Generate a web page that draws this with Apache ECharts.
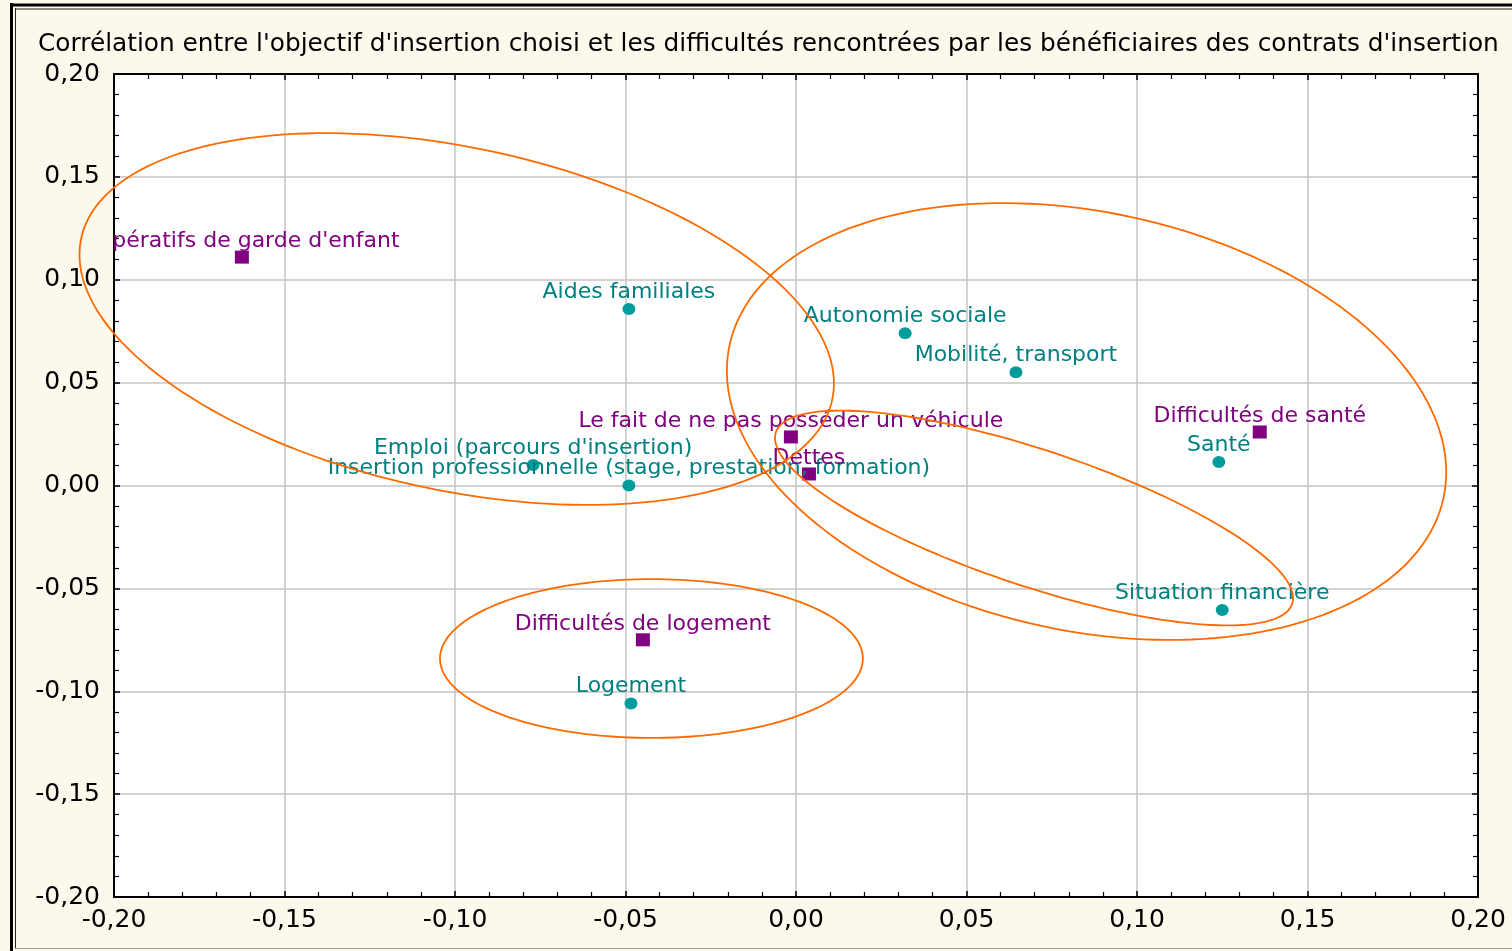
<!DOCTYPE html>
<html>
<head>
<meta charset="utf-8">
<script src="https://cdn.jsdelivr.net/npm/echarts@6/dist/echarts.min.js"></script>
<style>
  html, body { margin: 0; padding: 0; background: #ffffff; }
  #chart { width: 1512px; height: 951px; }
</style>
</head>
<body>
<div id="chart"></div>
<script>
// tick values of both axes
const axisTicks = [-0.20, -0.15, -0.10, -0.05, 0.00, 0.05, 0.10, 0.15, 0.20];

// objectifs d'insertion (points verts)
const objectifLabels = ['Aides familiales', 'Autonomie sociale', 'Mobilité, transport', 'Santé',
  'Situation financière', 'Logement', "Emploi (parcours d'insertion)",
  'Insertion professionnelle (stage, prestation, formation)'];
const objectifX = [-0.049, 0.032, 0.0645, 0.124, 0.125, -0.0484, -0.0771, -0.049];
const objectifY = [0.0858, 0.074, 0.055, 0.0114, -0.0605, -0.106, 0.010, 0.0];

// difficultés rencontrées (carrés violets)
const difficulteLabels = ["pératifs de garde d'enfant", 'Le fait de ne pas posséder un véhicule', 'Dettes',
  'Difficultés de santé', 'Difficultés de logement'];
const difficulteX = [-0.1625, -0.0015, 0.0038, 0.136, -0.0449];
const difficulteY = [0.111, 0.0236, 0.0056, 0.026, -0.075];

// groupes : centre et demi-axes (vecteurs) en unités des axes
const ellipseCx = [-0.0995, -0.0424, 0.0852, 0.0698];
const ellipseCy = [0.0809, -0.0841, 0.0311, -0.0158];
const ellipseAx = [0.1103, 0.0620, 0.1047, 0.0757];
const ellipseAy = [-0.0377, 0.0, -0.0370, -0.0417];
const ellipseBx = [-0.0085, 0.0, -0.0128, -0.0063];
const ellipseBy = [-0.0821, 0.0386, -0.0995, -0.0314];

const font = 'DejaVu Sans';
const teal = '#009c9c';
const tealText = '#008080';
const purple = '#800080';

const fmt = v => v.toFixed(2).replace('.', ',');

const objectifData = objectifLabels.map((name, i) => ({ name, value: [objectifX[i], objectifY[i]] }));
const difficulteData = difficulteLabels.map((name, i) => {
  const item = { name, value: [difficulteX[i], difficulteY[i]] };
  if (i === 0) item.label = { offset: [14, 0] };
  return item;
});
const ellipseData = ellipseCx.map((cx, i) =>
  [cx, ellipseCy[i], ellipseAx[i], ellipseAy[i], ellipseBx[i], ellipseBy[i]]);

const chart = echarts.init(document.getElementById('chart'));

const baseX = {
  type: 'value', min: -0.2, max: 0.2, interval: 0.05,
  axisLine: { show: true, onZero: false, lineStyle: { color: '#000', width: 2 } },
  axisTick: { show: true, inside: true, length: 6, lineStyle: { color: '#000', width: 1.5 } },
  minorTick: { show: true, splitNumber: 5, length: 5, lineStyle: { color: '#000', width: 1.2 } }
};

const option = {
  backgroundColor: '#fdf8ec',
  animation: false,
  title: {
    text: "Corrélation entre l'objectif d'insertion choisi et les difficultés rencontrées par les bénéficiaires des contrats d'insertion",
    left: 33, top: 27,
    textStyle: { fontFamily: font, fontSize: 24.8, fontWeight: 'normal', color: '#000' }
  },
  grid: { left: 114, right: 34, top: 74, bottom: 54, show: true, backgroundColor: '#fff', borderWidth: 0 },
  xAxis: [
    Object.assign({}, baseX, {
      position: 'bottom',
      axisLabel: { fontFamily: font, fontSize: 25, color: '#000', margin: 11, formatter: fmt,
        customValues: axisTicks },
      splitLine: { show: true, lineStyle: { color: '#c4c4c4', width: 1.5 } }
    }),
    Object.assign({}, baseX, { position: 'top', axisLabel: { show: false }, splitLine: { show: false } })
  ],
  yAxis: [
    Object.assign({}, baseX, {
      position: 'left',
      axisLabel: { fontFamily: font, fontSize: 25, color: '#000', margin: 14, formatter: fmt,
        customValues: axisTicks },
      splitLine: { show: true, lineStyle: { color: '#c4c4c4', width: 1.5 } }
    }),
    Object.assign({}, baseX, { position: 'right', axisLabel: { show: false }, splitLine: { show: false } })
  ],
  graphic: [
    { type: 'line', shape: { x1: 11.5, y1: 3, x2: 11.5, y2: 951 }, style: { stroke: '#000', lineWidth: 3 } },
    { type: 'line', shape: { x1: 10, y1: 5, x2: 1512, y2: 5 }, style: { stroke: '#000', lineWidth: 3 } },
    { type: 'line', shape: { x1: 15.5, y1: 8, x2: 15.5, y2: 948 }, style: { stroke: '#222', lineWidth: 1 } },
    { type: 'line', shape: { x1: 15, y1: 9, x2: 1512, y2: 9 }, style: { stroke: '#222', lineWidth: 1 } },
    { type: 'line', shape: { x1: 15, y1: 948.5, x2: 1512, y2: 948.5 }, style: { stroke: '#9a9a9a', lineWidth: 1 } }
  ],
  series: [
    {
      type: 'custom',
      xAxisIndex: 0, yAxisIndex: 0,
      clip: false,
      z: 5,
      encode: { x: 0, y: 1 },
      data: ellipseData,
      renderItem: function (params, api) {
        const cx = api.value(0), cy = api.value(1);
        const ax = api.value(2), ay = api.value(3), bx = api.value(4), by = api.value(5);
        const pts = [];
        for (let k = 0; k < 180; k++) {
          const t = k / 180 * Math.PI * 2;
          pts.push(api.coord([cx + ax * Math.cos(t) + bx * Math.sin(t), cy + ay * Math.cos(t) + by * Math.sin(t)]));
        }
        return {
          type: 'polygon',
          shape: { points: pts },
          style: { fill: 'none', stroke: '#ff6a00', lineWidth: 1.8 }
        };
      },
      silent: true
    },
    {
      name: 'Objectifs',
      type: 'scatter',
      symbol: 'circle',
      symbolSize: [13, 12],
      itemStyle: { color: teal, opacity: 1 },
      label: {
        show: true, position: 'top', distance: 0, formatter: '{b}',
        fontFamily: font, fontSize: 22, color: tealText
      },
      data: objectifData,
      z: 3
    },
    {
      name: 'Difficultés',
      type: 'scatter',
      symbol: 'rect',
      symbolSize: [14, 13],
      itemStyle: { color: purple, opacity: 1 },
      label: {
        show: true, position: 'top', distance: -2, formatter: '{b}',
        fontFamily: font, fontSize: 22, color: purple
      },
      data: difficulteData,
      z: 3
    }
  ]
};

chart.setOption(option);
</script>
</body>
</html>
